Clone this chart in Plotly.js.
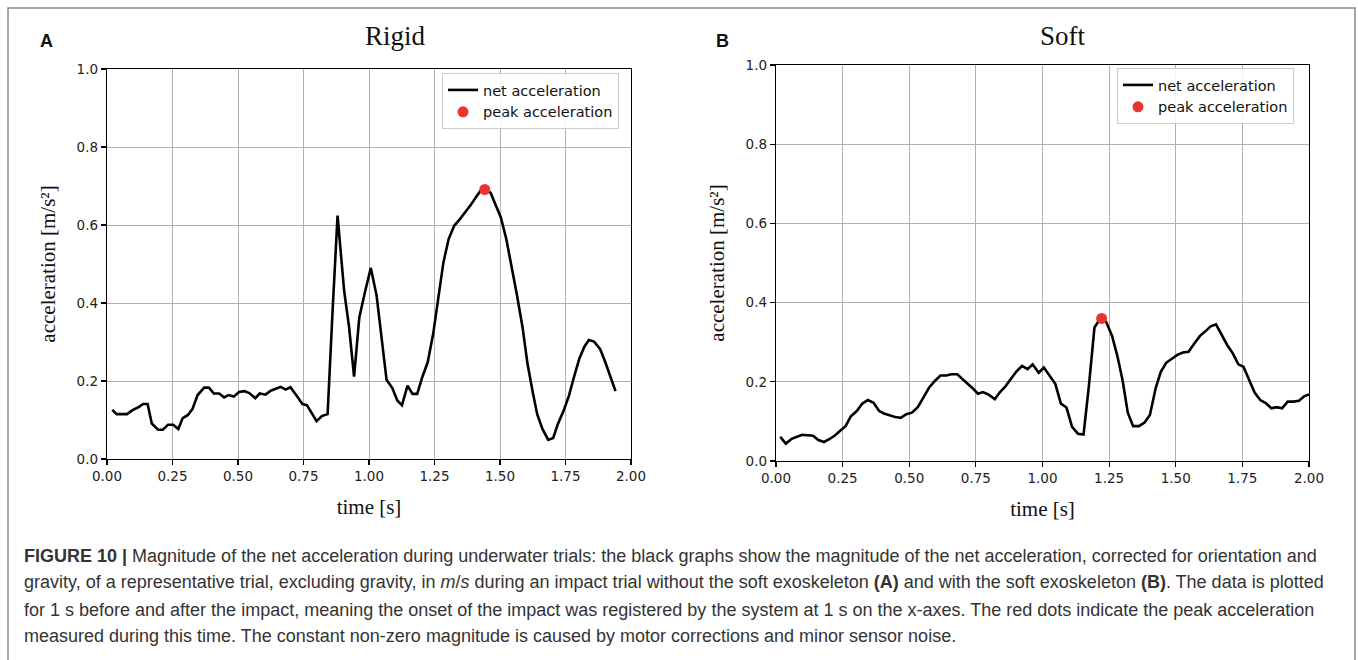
<!DOCTYPE html>
<html>
<head>
<meta charset="utf-8">
<script src="https://cdn.plot.ly/plotly-3.0.1.min.js"></script>
<style>
html,body{margin:0;padding:0;background:#fff;}
#chart{width:1358px;height:660px;}
</style>
</head>
<body>
<div id="chart"></div>
<script>
// ---- Data ----
const rigidTime = [0.020,0.037,0.076,0.099,0.118,0.138,0.155,0.171,0.195,0.213,0.233,0.253,0.272,0.289,0.309,0.326,0.346,0.371,0.389,0.408,0.428,0.447,0.464,0.484,0.504,0.524,0.543,0.566,0.583,0.605,0.625,0.645,0.663,0.682,0.700,0.724,0.746,0.763,0.783,0.800,0.820,0.842,0.861,0.880,0.905,0.924,0.943,0.963,0.986,1.007,1.029,1.047,1.067,1.089,1.108,1.126,1.147,1.166,1.184,1.203,1.224,1.245,1.264,1.284,1.304,1.325,1.347,1.368,1.388,1.408,1.428,1.445,1.464,1.483,1.503,1.524,1.543,1.564,1.586,1.605,1.625,1.642,1.662,1.684,1.703,1.721,1.743,1.763,1.782,1.803,1.822,1.839,1.859,1.882,1.901,1.921,1.941];
const rigidAcc = [0.126,0.115,0.115,0.126,0.132,0.141,0.141,0.091,0.075,0.075,0.088,0.088,0.077,0.105,0.113,0.128,0.164,0.183,0.183,0.168,0.168,0.158,0.164,0.160,0.172,0.174,0.169,0.156,0.168,0.165,0.175,0.181,0.185,0.178,0.184,0.162,0.141,0.138,0.114,0.097,0.110,0.115,0.380,0.624,0.432,0.338,0.211,0.363,0.432,0.490,0.419,0.312,0.203,0.182,0.150,0.138,0.188,0.167,0.167,0.209,0.248,0.321,0.415,0.504,0.564,0.598,0.615,0.632,0.651,0.671,0.690,0.690,0.683,0.652,0.620,0.564,0.500,0.423,0.338,0.244,0.171,0.115,0.077,0.049,0.054,0.090,0.124,0.162,0.209,0.258,0.288,0.305,0.301,0.282,0.250,0.209,0.174];
const rigidPeakTime = [1.442];
const rigidPeakAcc = [0.691];

const softTime = [0.016,0.037,0.059,0.078,0.098,0.118,0.139,0.159,0.180,0.200,0.222,0.242,0.261,0.281,0.303,0.324,0.345,0.366,0.387,0.405,0.426,0.447,0.468,0.489,0.510,0.532,0.553,0.574,0.596,0.617,0.638,0.659,0.680,0.699,0.719,0.739,0.758,0.776,0.797,0.821,0.839,0.860,0.881,0.902,0.923,0.944,0.963,0.986,1.005,1.027,1.048,1.069,1.090,1.111,1.133,1.154,1.174,1.195,1.211,1.222,1.239,1.261,1.281,1.301,1.320,1.340,1.362,1.383,1.403,1.425,1.444,1.464,1.485,1.506,1.527,1.548,1.569,1.591,1.612,1.631,1.651,1.672,1.693,1.714,1.735,1.754,1.775,1.796,1.817,1.838,1.859,1.878,1.899,1.920,1.941,1.962,1.983,2.000];
const softAcc = [0.061,0.044,0.056,0.061,0.066,0.065,0.064,0.053,0.048,0.055,0.065,0.077,0.088,0.113,0.126,0.145,0.154,0.147,0.126,0.120,0.115,0.111,0.109,0.118,0.122,0.136,0.160,0.185,0.202,0.216,0.216,0.219,0.219,0.206,0.195,0.183,0.170,0.174,0.168,0.156,0.173,0.188,0.206,0.226,0.240,0.232,0.244,0.223,0.236,0.215,0.195,0.145,0.135,0.086,0.069,0.067,0.189,0.337,0.354,0.360,0.351,0.316,0.265,0.202,0.122,0.088,0.088,0.097,0.116,0.185,0.225,0.248,0.259,0.268,0.274,0.276,0.296,0.316,0.328,0.340,0.345,0.320,0.293,0.272,0.244,0.238,0.206,0.173,0.154,0.146,0.133,0.136,0.133,0.150,0.150,0.152,0.164,0.168];
const softPeakTime = [1.222];
const softPeakAcc = [0.360];

const panelTitles = ["Rigid", "Soft"];
const panelLetters = ["A", "B"];
const xTicks = [0, 0.25, 0.5, 0.75, 1.0, 1.25, 1.5, 1.75, 2.0];
const yTicks = [0, 0.2, 0.4, 0.6, 0.8, 1.0];
const seriesNames = ["net acceleration", "peak acceleration"];
const captionLines = [
  "<b>FIGURE 10 |</b> Magnitude of the net acceleration during underwater trials: the black graphs show the magnitude of the net acceleration, corrected for orientation and",
  "gravity, of a representative trial, excluding gravity, in <i>m</i>/<i>s</i> during an impact trial without the soft exoskeleton <b>(A)</b> and with the soft exoskeleton <b>(B)</b>. The data is plotted",
  "for 1 s before and after the impact, meaning the onset of the impact was registered by the system at 1 s on the x-axes. The red dots indicate the peak acceleration",
  "measured during this time. The constant non-zero magnitude is caused by motor corrections and minor sensor noise."
];

// ---- Layout helpers ----
const W = 1358, H = 660;
const px = v => v / W;
const py = v => 1 - v / H;
const RED = "#e8352f";
const tickFont = {family: "DejaVu Sans", size: 13.5, color: "#222"};
const serif = "Liberation Serif, Times New Roman, serif";

function xaxisDef(anchor) {
  return {
    anchor: anchor, range: [0, 2], tickvals: xTicks, tickformat: ".2f",
    showgrid: true, gridcolor: "#b0b0b0", gridwidth: 1,
    showline: true, linecolor: "#000", linewidth: 1.2, mirror: true,
    ticks: "outside", ticklen: 5, tickwidth: 1.2, tickcolor: "#000",
    tickfont: tickFont, zeroline: false,
    title: {text: "time [s]", font: {family: serif, size: 21, color: "#111"}, standoff: 15}
  };
}
function yaxisDef(anchor) {
  return {
    anchor: anchor, range: [0, 1], tickvals: yTicks, tickformat: ".1f",
    showgrid: true, gridcolor: "#b0b0b0", gridwidth: 1,
    showline: true, linecolor: "#000", linewidth: 1.2, mirror: true,
    ticks: "outside", ticklen: 5, tickwidth: 1.2, tickcolor: "#000",
    tickfont: tickFont, zeroline: false,
    title: {text: "acceleration [m/s²]", font: {family: serif, size: 21, color: "#111"}, standoff: 15}
  };
}

const traces = [
  {x: rigidTime, y: rigidAcc, type: "scatter", mode: "lines", name: seriesNames[0],
   line: {color: "#000", width: 2.6}, xaxis: "x", yaxis: "y", legend: "legend"},
  {x: rigidPeakTime, y: rigidPeakAcc, type: "scatter", mode: "markers", name: seriesNames[1],
   marker: {color: RED, size: 11}, xaxis: "x", yaxis: "y", legend: "legend"},
  {x: softTime, y: softAcc, type: "scatter", mode: "lines", name: seriesNames[0],
   line: {color: "#000", width: 2.6}, xaxis: "x2", yaxis: "y2", legend: "legend2"},
  {x: softPeakTime, y: softPeakAcc, type: "scatter", mode: "markers", name: seriesNames[1],
   marker: {color: RED, size: 11}, xaxis: "x2", yaxis: "y2", legend: "legend2"}
];

const legendStyle = {
  bgcolor: "rgba(255,255,255,0.85)", bordercolor: "#cccccc", borderwidth: 1,
  font: {family: "DejaVu Sans", size: 14.5, color: "#111"},
  xanchor: "left", yanchor: "top", tracegroupgap: 0, itemwidth: 30
};

const annotations = [
  {text: panelTitles[0], x: px(395), y: py(36), xref: "paper", yref: "paper", showarrow: false,
   font: {family: serif, size: 27, color: "#111"}, xanchor: "center", yanchor: "middle"},
  {text: panelTitles[1], x: px(1063), y: py(36), xref: "paper", yref: "paper", showarrow: false,
   font: {family: serif, size: 27, color: "#111"}, xanchor: "center", yanchor: "middle"},
  {text: "<b>" + panelLetters[0] + "</b>", x: px(46), y: py(41), xref: "paper", yref: "paper", showarrow: false,
   font: {family: "Liberation Sans, Arial", size: 18, color: "#111"}, xanchor: "center", yanchor: "middle"},
  {text: "<b>" + panelLetters[1] + "</b>", x: px(722), y: py(41), xref: "paper", yref: "paper", showarrow: false,
   font: {family: "Liberation Sans, Arial", size: 18, color: "#111"}, xanchor: "center", yanchor: "middle"}
];
const captionY = [556, 582, 610, 636];
captionLines.forEach((t, i) => {
  annotations.push({text: t, x: px(22), y: py(captionY[i]), xref: "paper", yref: "paper", showarrow: false,
    xanchor: "left", yanchor: "middle", align: "left",
    font: {family: "Liberation Sans, Arial, sans-serif", size: 18, color: "#333"}});
});

const layout = {
  width: W, height: H,
  margin: {l: 0, r: 0, t: 0, b: 0},
  paper_bgcolor: "#fff", plot_bgcolor: "#fff",
  showlegend: true,
  xaxis: Object.assign(xaxisDef("y"), {domain: [px(107), px(631)]}),
  yaxis: Object.assign(yaxisDef("x"), {domain: [1 - 459 / H, 1 - 69 / H]}),
  xaxis2: Object.assign(xaxisDef("y2"), {domain: [px(776), px(1309)]}),
  yaxis2: Object.assign(yaxisDef("x2"), {domain: [1 - 461 / H, 1 - 65 / H]}),
  legend: Object.assign({}, legendStyle, {x: px(442), y: py(73)}),
  legend2: Object.assign({}, legendStyle, {x: px(1117), y: py(68)}),
  annotations: annotations,
  shapes: [
    {type: "rect", xref: "paper", yref: "paper", x0: px(8), x1: px(1355), y0: py(675), y1: py(8),
     line: {color: "#8a8a8a", width: 1.5}, fillcolor: "rgba(0,0,0,0)", layer: "below"}
  ]
};

Plotly.newPlot("chart", traces, layout, {displayModeBar: false, staticPlot: true});
</script>
</body>
</html>
